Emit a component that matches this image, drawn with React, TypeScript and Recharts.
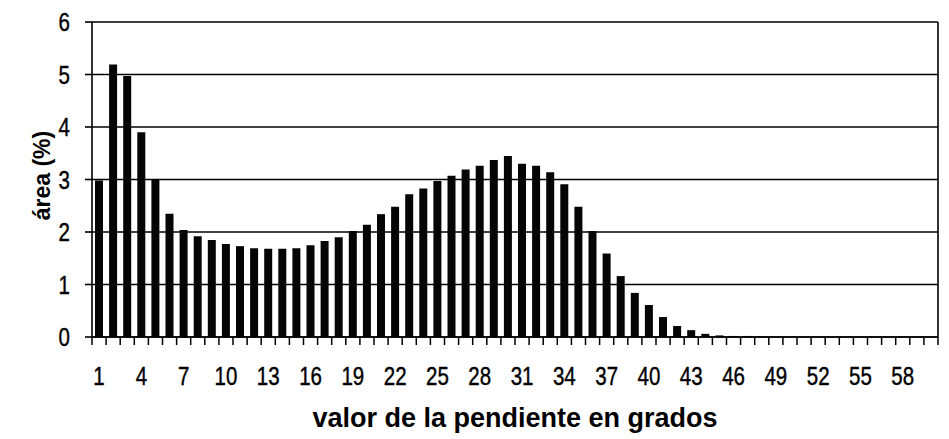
import { Bar, BarChart, CartesianGrid, Label, XAxis, YAxis } from 'recharts';

// slope value in degrees (x categories)
const slopeDegrees = [
  1, 2, 3, 4, 5, 6, 7, 8, 9, 10, 11, 12, 13, 14, 15, 16, 17, 18, 19, 20,
  21, 22, 23, 24, 25, 26, 27, 28, 29, 30, 31, 32, 33, 34, 35, 36, 37, 38, 39, 40,
  41, 42, 43, 44, 45, 46, 47, 48, 49, 50, 51, 52, 53, 54, 55, 56, 57, 58, 59, 60,
];

// share of area (%) for each slope value
const areaPercent = [
  2.98, 5.19, 4.97, 3.9, 3.0, 2.35, 2.04, 1.92, 1.85, 1.77, 1.73, 1.69, 1.68, 1.68, 1.69, 1.75, 1.83, 1.9, 2.02, 2.14,
  2.34, 2.48, 2.72, 2.83, 2.97, 3.07, 3.19, 3.26, 3.37, 3.45, 3.3, 3.26, 3.14, 2.91, 2.48, 2.02, 1.59, 1.16, 0.84, 0.61,
  0.38, 0.21, 0.13, 0.06, 0.03, 0.02, 0.02, 0.01, 0, 0, 0, 0, 0, 0, 0, 0, 0, 0, 0, 0,
];

const yTicks = [0, 1, 2, 3, 4, 5, 6];

const data = slopeDegrees.map((deg, i) => ({ deg: String(deg), area: areaPercent[i] }));

const PLOT_WIDTH = 846;
const FONT = "'Liberation Sans', Arial, sans-serif";

// condensed looking digits, like the scanned original
const NarrowText = ({ x, y, anchor, children }: any) => (
  <text
    transform={`translate(${x}, ${y}) scale(0.82, 1)`}
    textAnchor={anchor}
    fontFamily={FONT}
    fontSize={25}
    fill="#000"
    stroke="#000"
    strokeWidth={0.4}
  >
    {children}
  </text>
);

const CategoryTick = (props: any) => {
  const { x, y, index, payload } = props;
  const half = PLOT_WIDTH / slopeDegrees.length / 2;
  return (
    <g>
      <line x1={x - half} x2={x - half} y1={y} y2={y + 8} stroke="#000" strokeWidth={1.5} />
      {index === slopeDegrees.length - 1 && (
        <line x1={x + half} x2={x + half} y1={y} y2={y + 8} stroke="#000" strokeWidth={1.5} />
      )}
      {index % 3 === 0 && (
        <NarrowText x={x} y={y + 48} anchor="middle">
          {payload.value}
        </NarrowText>
      )}
    </g>
  );
};

const ValueTick = (props: any) => {
  const { x, y, payload } = props;
  return (
    <NarrowText x={x} y={y + 9} anchor="end">
      {payload.value}
    </NarrowText>
  );
};

const XTitle = (props: any) => {
  const { x, y, width } = props.viewBox;
  return (
    <text x={x + width / 2} y={y + 90} textAnchor="middle" fontFamily={FONT} fontWeight="bold" fontSize={27} fill="#000">
      valor de la pendiente en grados
    </text>
  );
};

const YTitle = (props: any) => {
  const { x, y, height } = props.viewBox;
  const cx = x + 50;
  const cy = y + height / 2 - 4;
  return (
    <text x={cx} y={cy} transform={`rotate(-90, ${cx}, ${cy})`} textAnchor="middle" fontFamily={FONT} fontWeight="bold" fontSize={23} fill="#000">
      área (%)
    </text>
  );
};

export default function App() {
  return (
    <div style={{ position: 'absolute', left: 0, top: 0, background: '#fff' }}>
      <BarChart width={949} height={439} data={data} margin={{ top: 22, right: 0, bottom: 0, left: 0 }}>
        <CartesianGrid horizontal vertical={false} stroke="#000" strokeWidth={1.6} />
        <XAxis
          dataKey="deg"
          interval={0}
          height={102}
          tickSize={0}
          tickMargin={0}
          tickLine={false}
          axisLine={{ stroke: '#000', strokeWidth: 1.6 }}
          tick={<CategoryTick />}
        >
          <Label content={<XTitle />} />
        </XAxis>
        <YAxis
          width={92}
          domain={[0, 6]}
          ticks={yTicks}
          tickSize={7}
          tickMargin={15}
          tickLine={{ stroke: '#000', strokeWidth: 1.6 }}
          axisLine={{ stroke: '#000', strokeWidth: 1.6 }}
          tick={<ValueTick />}
        >
          <Label content={<YTitle />} />
        </YAxis>
        <YAxis
          yAxisId="right"
          orientation="right"
          width={11}
          domain={[0, 6]}
          tick={false}
          tickLine={false}
          axisLine={{ stroke: '#000', strokeWidth: 1.6 }}
        />
        <Bar dataKey="area" fill="#050505" barSize={8} isAnimationActive={false} />
      </BarChart>
    </div>
  );
}
